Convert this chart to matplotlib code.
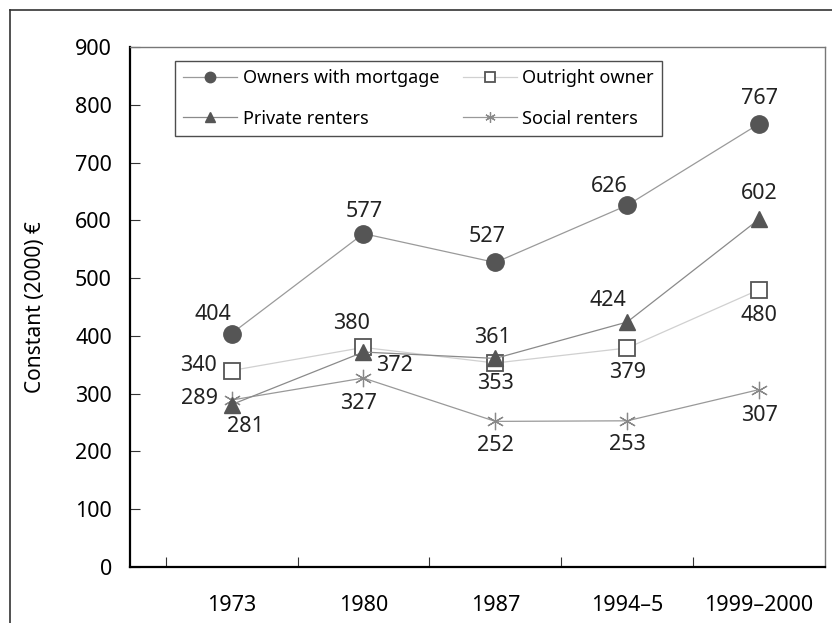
import matplotlib.pyplot as plt
from matplotlib.lines import Line2D

plt.rcParams['font.family'] = ['Noto Sans', 'DejaVu Sans']

periods = ['1973', '1980', '1987', '1994–5', '1999–2000']
mortgage = [404, 577, 527, 626, 767]
outright = [340, 380, 353, 379, 480]
private = [281, 372, 361, 424, 602]
social = [289, 327, 252, 253, 307]

# label offsets in pixels (dx, dy) from each point
off_mortgage = [(-19, 19), (1, 22), (-8, 26), (-18, 19), (0, 25)]
off_outright = [(-33, 5), (-12, 24), (0, -20), (0, -24), (0, -26)]
off_private = [(14, -22), (31, -13), (-3, 21), (-19, 22), (0, 26)]
off_social = [(-32, 2), (-5, -25), (0, -24), (0, -24), (0, -26)]

x = list(range(len(periods)))

fig = plt.figure(figsize=(8.32, 6.23), dpi=100)
ax = fig.add_axes([0.1563, 0.0899, 0.8353, 0.8347])

h1, = ax.plot(x, mortgage, color='#9a9a9a', lw=0.9, marker='o', ms=12.5,
              mfc='#555555', mec='#555555', label='Owners with mortgage', zorder=3)
h2, = ax.plot(x, outright, color='#d0d0d0', lw=0.9, marker='s', ms=11.5,
              mfc='white', mec='#555555', mew=1.3, label='Outright owner', zorder=3)
h3, = ax.plot(x, private, color='#8a8a8a', lw=0.9, marker='^', ms=12,
              mfc='#555555', mec='#555555', label='Private renters', zorder=4)
h4, = ax.plot(x, social, color='#999999', lw=0.9, marker=(6, 2, 0), ms=12.5,
              mec='#888888', mew=0.9, label='Social renters', zorder=3)

for vals, offs in [(mortgage, off_mortgage), (outright, off_outright),
                   (private, off_private), (social, off_social)]:
    for xi, v, (dx, dy) in zip(x, vals, offs):
        ax.annotate(str(v), (xi, v), xytext=(dx * 0.72, dy * 0.72),
                    textcoords='offset points', ha='center', va='center',
                    fontsize=15.5, color='#222222')

ax.set_ylim(0, 900)
ax.set_yticks(range(0, 901, 100))
ax.set_xlim(-0.77, 4.5)
ax.set_xticks([-0.5, 0.5, 1.5, 2.5, 3.5])
ax.set_xticklabels([])
ax.set_xticks(x, minor=True)
ax.set_xticklabels(periods, minor=True)
ax.tick_params(axis='x', which='minor', length=0, pad=20, labelsize=15.5)
ax.tick_params(axis='x', which='major', direction='in', length=7, color='#333333')
ax.tick_params(axis='y', direction='in', length=7, labelsize=15.5, pad=13, color='#333333')
ax.set_ylabel('Constant (2000) €', fontsize=15, labelpad=21)

ax.spines['left'].set_linewidth(1.6)
ax.spines['bottom'].set_linewidth(1.6)
ax.spines['top'].set_color('#777777')
ax.spines['right'].set_color('#777777')
ax.spines['top'].set_linewidth(1.0)
ax.spines['right'].set_linewidth(1.0)

leg = ax.legend(handles=[h1, h3, h2, h4], loc='upper left',
                bbox_to_anchor=(0.0647, 0.973), borderaxespad=0, ncol=2,
                fontsize=13, frameon=True, fancybox=False, markerscale=0.6,
                handlelength=3.0, columnspacing=1.3, handletextpad=0.3,
                borderpad=0.45, labelspacing=1.25)
leg.get_frame().set_edgecolor('#222222')
leg.get_frame().set_linewidth(1.0)

# outer frame (top and left edges)
fig.add_artist(Line2D([9.5 / 832, 9.5 / 832], [0, 1 - 9.5 / 623],
                      transform=fig.transFigure, color='#333333', lw=1.2))
fig.add_artist(Line2D([9.5 / 832, 1], [1 - 9.5 / 623, 1 - 9.5 / 623],
                      transform=fig.transFigure, color='#333333', lw=1.2))

fig.savefig('out.png', dpi=100)
